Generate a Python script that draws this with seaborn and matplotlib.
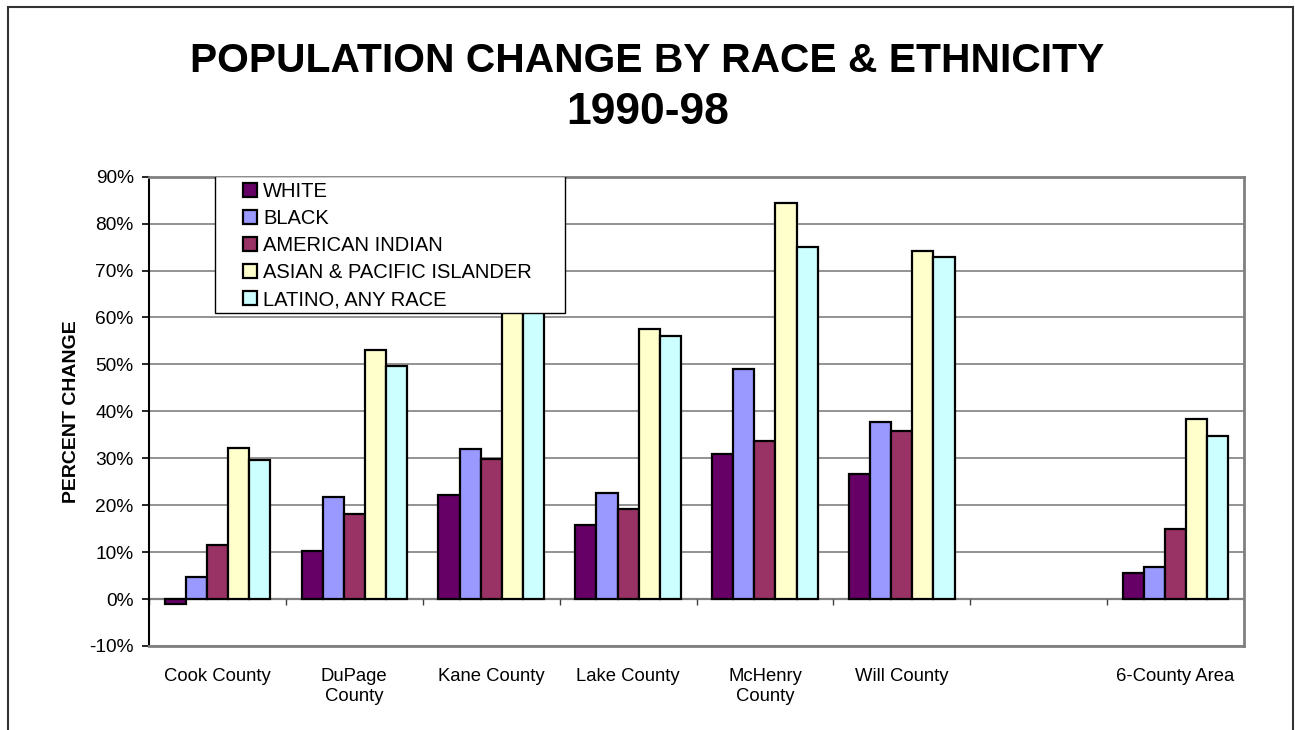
import numpy as np
import pandas as pd
import matplotlib
matplotlib.use("Agg")
import matplotlib.pyplot as plt
import matplotlib.patches as mpatches
from matplotlib.ticker import FuncFormatter, MultipleLocator
import seaborn as sns

# ---- data ----
categories = ["Cook County", "DuPage County", "Kane County", "Lake County",
              "McHenry County", "Will County", " ", "6-County Area"]
tick_labels = ["Cook County", "DuPage\nCounty", "Kane County", "Lake County",
               "McHenry\nCounty", "Will County", "", "6-County Area"]
counties_with_data = ["Cook County", "DuPage County", "Kane County", "Lake County",
                      "McHenry County", "Will County", "6-County Area"]
races = ["WHITE", "BLACK", "AMERICAN INDIAN", "ASIAN & PACIFIC ISLANDER", "LATINO, ANY RACE"]
white = [-1.1, 10.3, 22.1, 15.7, 31.0, 26.7, 5.6]
black = [4.8, 21.8, 32.0, 22.5, 49.1, 37.7, 6.8]
american_indian = [11.5, 18.1, 29.9, 19.1, 33.7, 35.9, 14.9]
asian_pacific = [32.2, 53.1, 65.0, 57.5, 84.3, 74.1, 38.3]
latino = [29.6, 49.7, 63.0, 56.0, 75.1, 72.9, 34.7]
colors = ["#660066", "#9999FF", "#993366", "#FFFFCC", "#CCFFFF"]

series = [white, black, american_indian, asian_pacific, latino]
rows = []
for race, vals in zip(races, series):
    for county, v in zip(counties_with_data, vals):
        rows.append({"county": county, "race": race, "change": v})
df = pd.DataFrame(rows)

# ---- figure ----
sns.set_style("white")
plt.rcParams["font.family"] = ["Liberation Sans", "DejaVu Sans"]
plt.rcParams["text.color"] = "black"
plt.rcParams["axes.labelcolor"] = "black"
plt.rcParams["xtick.color"] = "black"
plt.rcParams["ytick.color"] = "black"

W, H = 1295, 730
fig = plt.figure(figsize=(W / 100, H / 100), dpi=100)
ax = fig.add_axes([149 / W, 1 - 646 / H, (1244 - 149) / W, (646 - 176.7) / H])

sns.barplot(data=df, x="county", y="change", hue="race", order=categories,
            hue_order=races, palette=colors, saturation=1, edgecolor="black",
            linewidth=1.6, width=0.77, gap=0, errorbar=None, ax=ax, legend=True,
            zorder=3)

ax.set_ylim(-10, 90)
ax.set_xlim(-0.5, len(categories) - 0.5)
ax.yaxis.set_major_locator(MultipleLocator(10))
ax.yaxis.set_major_formatter(FuncFormatter(lambda v, p: f"{v:.0f}%"))
ax.set_axisbelow(True)
ax.grid(axis="y", color="#808080", linewidth=1.2, zorder=0)
ax.grid(axis="x", visible=False)

# category axis line at 0 with boundary ticks
ax.axhline(0, color="#808080", linewidth=1.6, zorder=1)
ax.vlines(np.arange(len(categories) + 1) - 0.5, -1.3, 0, colors="#404040",
          linewidth=1.0, zorder=1)

ax.set_xticks(range(len(categories)))
ax.set_xticklabels(tick_labels, fontsize=13.3)
ax.tick_params(axis="x", length=0, pad=16)
ax.tick_params(axis="y", direction="out", length=5, width=1.2, color="black",
               pad=6, labelsize=13.8, left=True)

for s in ["top", "right", "bottom"]:
    ax.spines[s].set_color("#808080")
    ax.spines[s].set_linewidth(2)
ax.spines["left"].set_color("black")
ax.spines["left"].set_linewidth(1.5)

ax.set_xlabel("")
ax.set_ylabel("PERCENT CHANGE", fontsize=14, fontweight="bold")
ax.yaxis.set_label_coords((80 - 149) / (1244 - 149), 0.5)

# legend
handles, labels = ax.get_legend_handles_labels()
old = ax.get_legend()
if old is not None:
    old.remove()
box = mpatches.Rectangle((215 / W, 1 - 313 / H), (565 - 215) / W, (313 - 176) / H,
                         transform=fig.transFigure, facecolor="white",
                         edgecolor="black", linewidth=1.0, zorder=4)
ax.add_artist(box)
leg = ax.legend(handles, labels, loc="upper left",
                bbox_to_anchor=(243 / W, 1 - 182 / H), bbox_transform=fig.transFigure,
                frameon=False, fontsize=14.5, borderpad=0, borderaxespad=0,
                handlelength=0.7, handleheight=0.7, handletextpad=0.3,
                labelspacing=0.4)
leg.set_zorder(5)

# title
fig.text(0.5, 1 - 61 / H, "POPULATION CHANGE BY RACE & ETHNICITY", ha="center",
         va="center", fontsize=29.3, fontweight="bold")
fig.text(0.5, 1 - 113 / H, "1990-98", ha="center", va="center",
         fontsize=32, fontweight="bold")

# figure border
border = mpatches.Rectangle((8 / W, -0.02), (1293 - 8) / W, 0.02 + 1 - 7 / H,
                            transform=fig.transFigure, facecolor="none",
                            edgecolor="#333333", linewidth=1.5, zorder=10)
fig.patches.append(border)

fig.savefig("out.png", dpi=100)
